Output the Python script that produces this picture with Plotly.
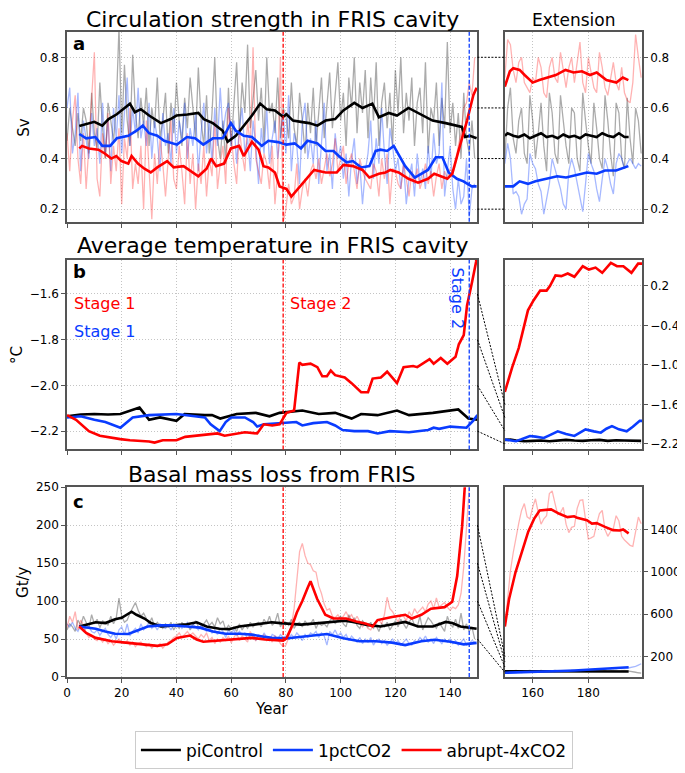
import plotly.graph_objects as go

# ---------------- data ----------------
# Panel a: circulation strength (Sv), annual values, years 0-149
a_pi_annual = [
    0.47, 0.60, 0.52, 0.45, 0.58, 0.47, 0.60, 0.55, 0.42, 0.66,
    0.50, 0.44, 0.70, 0.52, 0.40, 0.62, 0.55, 0.47, 0.60, 0.92,
    0.50, 0.77, 0.55, 0.45, 0.81, 0.58, 0.48, 0.64, 0.53, 0.68,
    0.45, 0.60, 0.52, 0.72, 0.48, 0.55, 0.66, 0.42, 0.62, 0.50,
    0.70, 0.55, 0.45, 0.64, 0.52, 0.72, 0.60, 0.48, 0.76, 0.55,
    0.45, 0.65, 0.42, 0.58, 0.80, 0.48, 0.40, 0.55, 0.38, 0.68,
    0.45, 0.62, 0.78, 0.50, 0.70, 0.58, 0.85, 0.52, 0.64, 0.75,
    0.55, 0.68, 0.46, 0.80, 0.58, 0.62, 0.50, 0.72, 0.48, 0.60,
    0.57, 0.48, 0.70, 0.52, 0.45, 0.66, 0.55, 0.42, 0.62, 0.50,
    0.68, 0.45, 0.58, 0.72, 0.48, 0.60, 0.74, 0.52, 0.64, 0.78,
    0.55, 0.66, 0.45, 0.72, 0.60, 0.80, 0.50, 0.70, 0.58, 0.75,
    0.48, 0.72, 0.55, 0.78, 0.45, 0.62, 0.70, 0.52, 0.66, 0.45,
    0.75, 0.58, 0.80, 0.50, 0.66, 0.55, 0.72, 0.45, 0.62, 0.68,
    0.50, 0.78, 0.42, 0.60, 0.55, 0.70, 0.45, 0.64, 0.52, 0.86,
    0.50, 0.62, 0.45, 0.58, 0.40, 0.66, 0.48, 0.42, 0.55, 0.40,
]
a_1pct_annual = [
    0.60, 0.68, 0.42, 0.50, 0.66, 0.35, 0.55, 0.48, 0.40, 0.58,
    0.45, 0.52, 0.38, 0.62, 0.42, 0.55, 0.35, 0.60, 0.48, 0.65,
    0.42, 0.58, 0.72, 0.45, 0.60, 0.50, 0.68, 0.48, 0.55, 0.45,
    0.62, 0.40, 0.55, 0.48, 0.35, 0.58, 0.45, 0.50, 0.38, 0.60,
    0.42, 0.55, 0.48, 0.62, 0.40, 0.52, 0.45, 0.58, 0.35, 0.50,
    0.62, 0.42, 0.55, 0.38, 0.60, 0.45, 0.68, 0.50, 0.58, 0.62,
    0.45, 0.55, 0.38, 0.52, 0.60, 0.42, 0.48, 0.35, 0.55, 0.45,
    0.30, 0.52, 0.42, 0.60, 0.38, 0.48, 0.55, 0.40, 0.50, 0.58,
    0.42, 0.65, 0.35, 0.50, 0.45, 0.30, 0.55, 0.62, 0.40, 0.48,
    0.38, 0.55, 0.30, 0.45, 0.62, 0.35, 0.42, 0.28, 0.50, 0.40,
    0.45, 0.32, 0.42, 0.25, 0.40, 0.48, 0.30, 0.38, 0.22, 0.35,
    0.42, 0.55, 0.32, 0.48, 0.38, 0.60, 0.42, 0.30, 0.52, 0.45,
    0.35, 0.40, 0.28, 0.38, 0.22, 0.32, 0.38, 0.25, 0.42, 0.30,
    0.36, 0.28, 0.45, 0.32, 0.50, 0.38, 0.42, 0.70, 0.25, 0.35,
    0.45, 0.28, 0.20, 0.32, 0.22, 0.25, 0.40, 0.17, 0.28, 0.30,
]
a_4x_annual = [
    0.50, 0.35, 0.55, 0.65, 0.40, 0.30, 0.50, 0.28, 0.45, 0.62,
    0.82, 0.32, 0.25, 0.50, 0.40, 0.58, 0.30, 0.45, 0.35, 0.52,
    0.22, 0.48, 0.40, 0.60, 0.28, 0.38, 0.30, 0.45, 0.20, 0.55,
    0.35, 0.16, 0.42, 0.30, 0.48, 0.38, 0.25, 0.40, 0.55, 0.32,
    0.28, 0.45, 0.35, 0.22, 0.50, 0.30, 0.42, 0.20, 0.38, 0.30,
    0.45, 0.25, 0.40, 0.33, 0.55, 0.28, 0.38, 0.45, 0.30, 0.60,
    0.48, 0.38, 0.30, 0.52, 0.42, 0.35, 0.55, 0.45, 0.84, 0.40,
    0.35, 0.30, 0.42, 0.38, 0.28, 0.45, 0.22, 0.35, 0.80, 0.15,
    0.20, 0.30, 0.22, 0.25, 0.38, 0.20, 0.28, 0.32, 0.25, 0.35,
    0.38, 0.32, 0.40, 0.30, 0.36, 0.42, 0.33, 0.38, 0.48, 0.35,
    0.40, 0.45, 0.30, 0.38, 0.42, 0.35, 0.28, 0.40, 0.35, 0.32,
    0.30, 0.28, 0.38, 0.35, 0.25, 0.40, 0.32, 0.42, 0.22, 0.36,
    0.35, 0.30, 0.28, 0.38, 0.32, 0.25, 0.35, 0.30, 0.36, 0.28,
    0.32, 0.38, 0.30, 0.35, 0.25, 0.33, 0.38, 0.28, 0.35, 0.32,
    0.36, 0.34, 0.38, 0.45, 0.50, 0.60, 0.62, 0.70, 0.65, 0.80,
]
# Panel a running means (year, value)
a_pi_mean_x = [4.5, 8, 10, 12.9, 15.2, 18.2, 20.6, 23, 24.8, 27, 30, 34.3, 37.9, 40, 44, 48, 50, 53.3, 56.9, 58.7, 61.7, 64.6, 67.6, 70.6, 73, 76, 79, 80.2, 82.6, 85.5, 88.5, 91.5, 94.5, 98, 101, 105, 108, 111.6, 114, 117.6, 120.6, 124.8, 129.5, 133.6, 138.4, 142.5, 144.3, 145.5, 147.3, 149.7]
a_pi_mean_y = [0.529, 0.54, 0.545, 0.53, 0.556, 0.575, 0.595, 0.617, 0.583, 0.595, 0.57, 0.54, 0.556, 0.57, 0.574, 0.58, 0.556, 0.54, 0.51, 0.466, 0.49, 0.53, 0.57, 0.617, 0.595, 0.59, 0.565, 0.575, 0.55, 0.545, 0.54, 0.53, 0.55, 0.556, 0.59, 0.62, 0.60, 0.617, 0.563, 0.58, 0.57, 0.60, 0.575, 0.55, 0.54, 0.53, 0.525, 0.485, 0.49, 0.48]
a_1pct_mean_x = [4.5, 7, 10.4, 12.9, 15.8, 18.2, 22.4, 25.4, 27.7, 30, 33, 35.5, 40.2, 43.8, 46.8, 49.8, 53.3, 56.9, 59.9, 61.7, 64.6, 67.6, 71.2, 73.6, 77.1, 80.2, 83.2, 85.5, 87.9, 91.5, 94.5, 97.4, 99.8, 102.2, 104.5, 107.5, 110.5, 112.8, 114.6, 117, 119.4, 121.2, 123.6, 127.1, 129.5, 131.9, 134.8, 137.2, 139.5, 142.5, 144.9, 147.9, 149.7]
a_1pct_mean_y = [0.497, 0.48, 0.485, 0.45, 0.45, 0.48, 0.49, 0.51, 0.53, 0.50, 0.49, 0.47, 0.455, 0.485, 0.48, 0.455, 0.48, 0.48, 0.54, 0.51, 0.49, 0.485, 0.45, 0.47, 0.465, 0.455, 0.46, 0.44, 0.47, 0.46, 0.43, 0.43, 0.405, 0.385, 0.39, 0.365, 0.37, 0.43, 0.435, 0.43, 0.45, 0.415, 0.37, 0.325, 0.34, 0.355, 0.405, 0.405, 0.345, 0.32, 0.31, 0.29, 0.29]
a_4x_mean_x = [4.5, 5.5, 8, 11.5, 13.8, 16.2, 18, 19.9, 22.4, 23.6, 25.9, 28.3, 30.6, 33, 36.6, 39, 42.6, 46.2, 48, 51, 52.7, 54.5, 57.4, 59.9, 62.9, 64.6, 67.6, 70, 71.8, 73.6, 76, 77.7, 80.2, 82, 84.3, 87.9, 90.3, 94.5, 98.6, 101, 104.5, 108, 110.5, 114, 116.4, 118.2, 121.2, 124.8, 128.3, 131.9, 134.2, 139, 140.8, 143.2, 146.2, 148.5, 149.7]
a_4x_mean_y = [0.44, 0.45, 0.44, 0.435, 0.42, 0.40, 0.41, 0.39, 0.38, 0.41, 0.38, 0.36, 0.345, 0.365, 0.39, 0.365, 0.37, 0.345, 0.33, 0.36, 0.40, 0.37, 0.38, 0.44, 0.45, 0.41, 0.466, 0.435, 0.37, 0.365, 0.345, 0.29, 0.28, 0.25, 0.28, 0.325, 0.355, 0.345, 0.345, 0.375, 0.37, 0.355, 0.325, 0.34, 0.345, 0.355, 0.345, 0.32, 0.305, 0.32, 0.34, 0.32, 0.34, 0.435, 0.55, 0.65, 0.68]

# Panel a extension (years 150-199)
a_pi_ext = [
    0.40, 0.60, 0.68, 0.48, 0.42, 0.55, 0.60, 0.42, 0.38, 0.65,
    0.55, 0.40, 0.50, 0.62, 0.45, 0.35, 0.66, 0.58, 0.42, 0.38,
    0.65, 0.55, 0.45, 0.38, 0.60, 0.58, 0.40, 0.35, 0.66, 0.55,
    0.45, 0.38, 0.62, 0.52, 0.40, 0.36, 0.65, 0.55, 0.42, 0.33,
    0.62, 0.58, 0.40, 0.36, 0.64, 0.48, 0.38, 0.60, 0.55, 0.42,
]
a_1pct_ext = [
    0.38, 0.46, 0.40, 0.26, 0.27, 0.25, 0.18, 0.22, 0.24, 0.42,
    0.38, 0.36, 0.30, 0.27, 0.18, 0.24, 0.30, 0.40, 0.36, 0.32,
    0.28, 0.22, 0.20, 0.35, 0.40, 0.36, 0.30, 0.24, 0.19, 0.30,
    0.42, 0.38, 0.35, 0.28, 0.23, 0.32, 0.40, 0.36, 0.30, 0.26,
    0.38, 0.42, 0.40, 0.36, 0.38, 0.40, 0.38, 0.36, 0.38, 0.37,
]
a_4x_ext = [
    0.72, 0.87, 0.85, 0.75, 0.70, 0.78, 0.80, 0.70, 0.68, 0.66,
    0.72, 0.70, 0.80, 0.76, 0.66, 0.64, 0.76, 0.80, 0.72, 0.70,
    0.82, 0.74, 0.68, 0.76, 0.80, 0.70, 0.78, 0.86, 0.70, 0.66,
    0.80, 0.74, 0.68, 0.66, 0.82, 0.76, 0.68, 0.65, 0.72, 0.78,
    0.70, 0.67, 0.76, 0.66, 0.63, 0.62, 0.70, 0.89, 0.80, 0.72,
]
a_pi_ext_mean_x = [150, 151, 153, 155, 157, 159, 161, 163, 165, 167, 169, 171, 173, 175, 177, 179, 181, 183, 185, 187, 189, 191, 193, 194.5]
a_pi_ext_mean_y = [0.49, 0.50, 0.49, 0.485, 0.495, 0.48, 0.49, 0.50, 0.485, 0.49, 0.48, 0.495, 0.485, 0.49, 0.48, 0.495, 0.49, 0.485, 0.50, 0.49, 0.485, 0.50, 0.485, 0.485]
a_1pct_ext_mean_x = [150, 153, 155.3, 158.3, 161, 165.3, 168.8, 172, 176, 179.5, 183, 186, 190, 194.4]
a_1pct_ext_mean_y = [0.29, 0.29, 0.31, 0.30, 0.31, 0.32, 0.33, 0.325, 0.335, 0.345, 0.34, 0.353, 0.353, 0.37]
a_4x_ext_mean_x = [150, 151.8, 153, 155.3, 157.1, 160, 162.4, 165.3, 168.3, 171.8, 174.7, 177.7, 180.6, 183, 186.5, 190.1, 192.4, 194.4]
a_4x_ext_mean_y = [0.684, 0.745, 0.757, 0.75, 0.73, 0.70, 0.71, 0.72, 0.73, 0.75, 0.74, 0.745, 0.73, 0.74, 0.71, 0.70, 0.72, 0.71]

# Panel b: average temperature (degC)
b_pi_x = [0, 5, 10, 15, 19.5, 23, 26.5, 30, 34, 40, 43, 50.4, 53, 56, 62, 69, 74, 77.7, 86, 92, 98, 104, 107.5, 113.5, 120.6, 125, 133.7, 143, 146.7, 150]
b_pi_y = [-2.135, -2.127, -2.125, -2.127, -2.125, -2.11, -2.097, -2.15, -2.14, -2.155, -2.125, -2.13, -2.13, -2.145, -2.125, -2.12, -2.135, -2.12, -2.11, -2.125, -2.12, -2.145, -2.125, -2.13, -2.11, -2.13, -2.12, -2.105, -2.145, -2.15]
b_1pct_x = [0, 5, 10, 14, 19.5, 24, 30, 40, 50.4, 52.5, 55.8, 58, 60, 65, 68, 69.5, 72, 80, 83.8, 86, 90, 95, 98, 100.7, 105, 110, 113.5, 118, 125, 132, 134, 136, 140, 146, 148.4, 150]
b_1pct_y = [-2.14, -2.135, -2.15, -2.16, -2.185, -2.14, -2.13, -2.125, -2.14, -2.17, -2.20, -2.16, -2.14, -2.14, -2.16, -2.18, -2.17, -2.165, -2.16, -2.175, -2.165, -2.16, -2.175, -2.195, -2.20, -2.20, -2.21, -2.20, -2.205, -2.195, -2.185, -2.19, -2.18, -2.185, -2.155, -2.13]
b_4x_x = [0, 3.3, 8, 12, 19.5, 23, 30, 32, 35, 40, 43.2, 48, 51.6, 55, 57.6, 62, 65, 69.5, 71.9, 75, 77.7, 80.2, 83, 84, 84.9, 86, 89, 91.5, 93.3, 95, 96.4, 98, 101.5, 104, 107.5, 110, 111.7, 114.7, 117, 120.6, 123, 126.5, 128, 132.5, 134, 136.6, 139, 142, 143.2, 145, 146.2, 148, 149.5, 150]
b_4x_y = [-2.13, -2.15, -2.20, -2.22, -2.235, -2.24, -2.245, -2.25, -2.24, -2.24, -2.225, -2.22, -2.215, -2.21, -2.22, -2.21, -2.205, -2.21, -2.17, -2.175, -2.17, -2.12, -2.11, -2.00, -1.90, -1.91, -1.905, -1.92, -1.96, -1.96, -1.935, -1.955, -1.965, -1.99, -2.03, -2.03, -1.97, -1.965, -1.94, -1.99, -1.92, -1.915, -1.92, -1.885, -1.905, -1.88, -1.905, -1.875, -1.82, -1.78, -1.65, -1.55, -1.46, -1.40]
b_pi_ext_x = [150, 152, 154, 157, 160, 163, 166, 169, 172, 175, 178, 181, 184, 187, 190, 193, 196, 199]
b_pi_ext_y = [-2.14, -2.135, -2.15, -2.16, -2.155, -2.15, -2.16, -2.15, -2.14, -2.15, -2.155, -2.145, -2.14, -2.155, -2.145, -2.15, -2.15, -2.155]
b_1pct_ext_x = [150, 152, 154, 156, 159, 161, 164, 166, 169, 172, 175, 177, 179, 182, 184.5, 186.5, 188.5, 191, 193.8, 196, 198.5, 199.3]
b_1pct_ext_y = [-2.135, -2.15, -2.16, -2.13, -2.08, -2.09, -2.11, -2.07, -2.01, -2.05, -2.08, -2.03, -1.98, -2.01, -2.03, -1.97, -1.93, -1.98, -2.01, -1.94, -1.85, -1.85]
b_4x_ext_x = [150, 152.6, 155, 156.7, 158.3, 160.3, 162.7, 165, 166.2, 168.2, 170.3, 172.6, 175, 178, 180.2, 182.6, 185, 188.1, 190.3, 192.6, 195.5, 197.9, 199.3]
b_4x_ext_y = [-1.41, -1.04, -0.74, -0.45, -0.17, -0.02, 0.13, 0.13, 0.20, 0.36, 0.35, 0.39, 0.34, 0.50, 0.45, 0.48, 0.40, 0.55, 0.50, 0.50, 0.40, 0.54, 0.54]

# Panel c: basal mass loss (Gt/y), annual values, years 0-149
c_pi_annual = [
    62, 70, 66, 60, 75, 68, 80, 72, 64, 82,
    70, 76, 65, 74, 72, 68, 80, 70, 78, 104,
    80, 72, 75, 84, 92, 98, 88, 80, 84, 76,
    70, 78, 66, 72, 68, 64, 70, 66, 72, 62,
    68, 64, 72, 66, 70, 62, 68, 74, 66, 64,
    70, 75, 68, 72, 66, 78, 70, 74, 62, 68,
    64, 66, 60, 70, 62, 68, 64, 72, 66, 70,
    72, 66, 76, 70, 80, 68, 72, 84, 66, 74,
    72, 68, 76, 64, 70, 72, 66, 74, 68, 70,
    76, 64, 72, 68, 70, 66, 74, 78, 70, 76,
    80, 70, 66, 82, 72, 78, 68, 64, 74, 70,
    66, 72, 64, 68, 60, 70, 66, 72, 62, 68,
    74, 66, 76, 70, 64, 72, 78, 68, 66, 80,
    62, 70, 78, 74, 68, 64, 72, 66, 60, 80,
    70, 66, 76, 64, 84, 62, 70, 60, 66, 50,
]
c_1pct_annual = [
    70, 66, 72, 64, 60, 68, 62, 64, 66, 60,
    58, 62, 55, 60, 64, 56, 52, 58, 50, 62,
    66, 56, 70, 54, 60, 64, 58, 70, 62, 66,
    72, 64, 68, 62, 70, 66, 64, 68, 62, 70,
    66, 70, 64, 68, 72, 64, 70, 66, 62, 68,
    64, 60, 66, 58, 62, 56, 64, 60, 52, 62,
    58, 62, 54, 60, 56, 58, 50, 54, 56, 48,
    56, 50, 58, 52, 48, 56, 54, 50, 56, 52,
    54, 50, 56, 52, 58, 54, 48, 56, 52, 58,
    56, 60, 52, 58, 54, 42, 60, 56, 62, 54,
    58, 52, 56, 48, 54, 50, 46, 52, 44, 50,
    46, 52, 42, 48, 50, 44, 48, 42, 46, 50,
    44, 48, 42, 46, 50, 44, 42, 48, 46, 52,
    48, 54, 46, 50, 44, 52, 48, 44, 50, 46,
    50, 44, 48, 42, 46, 50, 42, 44, 48, 46,
]
c_4x_annual = [
    65, 80, 72, 86, 62, 75, 68, 58, 52, 55,
    50, 48, 52, 46, 50, 44, 48, 42, 46, 50,
    45, 44, 48, 42, 46, 40, 44, 46, 42, 40,
    44, 38, 42, 40, 44, 38, 42, 46, 48, 52,
    54, 58, 52, 56, 60, 55, 58, 54, 50, 56,
    52, 58, 48, 52, 44, 50, 46, 52, 48, 54,
    45, 52, 58, 48, 54, 50, 46, 60, 52, 48,
    54, 50, 56, 48, 52, 46, 54, 50, 44, 40,
    42, 52, 68, 90, 130, 165, 176, 160, 150, 148,
    140, 138, 120, 110, 96, 88, 90, 80, 78, 82,
    76, 80, 86, 78, 82, 74, 80, 72, 66, 70,
    64, 62, 68, 72, 75, 70, 82, 105, 90, 86,
    78, 72, 82, 80, 74, 86, 80, 90, 84, 88,
    92, 86, 96, 100, 90, 104, 92, 95, 98, 92,
    88, 92, 90, 95, 110, 145, 200, 270, 300, 320,
]
c_pi_mean_x = [4.5, 10.5, 14, 17.6, 20, 23.6, 25.4, 28.3, 30.7, 34.3, 39, 43.8, 47.4, 51, 55.7, 59.3, 62.9, 67.6, 71.2, 74.8, 78, 85.5, 92, 97.4, 101.5, 104.5, 109.3, 114.6, 118, 123.6, 128.3, 133.7, 138.4, 140.8, 143.8, 149.7]
c_pi_mean_y = [66.5, 72, 71, 76, 78, 86, 82, 77, 71, 66.5, 68, 69.5, 72, 66.5, 63.5, 63, 66.5, 68.7, 71, 72, 71, 69, 71, 72.5, 74, 72.5, 69, 66.5, 69, 72.5, 66.5, 66.5, 72.5, 71, 66.5, 63.5]
c_1pct_mean_x = [4.5, 10.5, 14, 17.6, 22.4, 26, 29.5, 34.3, 39, 43.8, 48.6, 53.3, 58, 62.9, 67.6, 72.4, 74.8, 80.8, 87.9, 95, 101, 106.9, 112.9, 118.8, 123.6, 129.5, 134.3, 140.2, 145, 149.7]
c_1pct_mean_y = [66.5, 63.5, 60, 57, 56.7, 62, 66.5, 68, 68, 66.5, 65, 60, 57, 57, 55.8, 52.8, 51.5, 51, 54, 56.7, 51, 47, 47, 45.3, 42, 47, 49, 46.4, 43, 45]
c_4x_mean_x = [4.5, 7, 10.5, 16.4, 22.4, 28.3, 33, 36.7, 40.2, 45, 47.4, 49.8, 55.7, 61.7, 67.6, 72.4, 77, 79, 80.2, 82, 84, 86, 88, 89, 91.4, 94.4, 97.4, 102, 105.7, 109.3, 111.7, 113.5, 118.8, 123.6, 126, 129.5, 133, 138, 140.8, 142.6, 144.4, 145.6, 146.3]
c_4x_mean_y = [66.5, 58, 51.5, 47, 45, 43, 41, 43, 51.5, 54.6, 49.4, 46.4, 48, 50.6, 51.5, 49.4, 48, 48, 51, 65, 85, 100, 118, 126, 103, 82, 77, 77, 73, 70, 66.5, 75, 79, 82, 77, 82, 90, 92, 99, 133, 198, 249, 300]

# Panel c extension (years 150-199)
c_pi_ext = [
    62, 66, 60, 64, 68, 62, 66, 60, 64, 68,
    62, 65, 60, 67, 63, 60, 66, 62, 68, 64,
    60, 66, 63, 60, 67, 62, 64, 68, 60, 65,
    62, 66, 60, 64, 68, 62, 66, 60, 64, 67,
    62, 60, 65, 68, 62, 60, 55, 50, 45, 42,
]
c_1pct_ext = [
    45, 48, 44, 50, 47, 52, 46, 50, 54, 48,
    52, 55, 50, 56, 53, 58, 55, 60, 57, 62,
    58, 64, 60, 66, 62, 68, 64, 70, 66, 72,
    68, 75, 70, 78, 74, 80, 76, 84, 80, 86,
    82, 88, 85, 92, 88, 95, 96, 105, 118, 130,
]
c_4x_ext = [
    480, 760, 1010, 1180, 1340, 1460, 1580, 1645, 1520, 1500,
    1610, 1690, 1560, 1450, 1500, 1530, 1740, 1765, 1650, 1540,
    1560, 1610, 1450, 1370, 1420, 1430, 1600, 1675, 1680, 1500,
    1310, 1320, 1335, 1450, 1550, 1580, 1400, 1335, 1380, 1410,
    1530, 1480, 1335, 1300, 1270, 1250, 1240, 1400, 1517, 1455,
]
c_pi_ext_mean_x = [150, 160, 170, 180, 190, 194.5]
c_pi_ext_mean_y = [60, 58, 58, 57, 57, 57]
c_1pct_ext_mean_x = [150, 155, 160, 165, 170, 175, 180, 185, 190, 194.5]
c_1pct_ext_mean_y = [45, 48, 52, 57, 62, 67, 73, 80, 88, 97]
c_4x_ext_mean_x = [150, 151.5, 153.8, 156.7, 158.4, 160.5, 162.5, 166.6, 169.6, 172.5, 174.9, 176, 179.5, 181.3, 183, 186, 188.9, 191.3, 192.5, 194.5]
c_4x_ext_mean_y = [483, 740, 993, 1240, 1379, 1500, 1580, 1590, 1548, 1517, 1525, 1510, 1487, 1456, 1460, 1425, 1394, 1390, 1400, 1363]

stage_years = {"abrupt-4xCO2": 79, "1pctCO2": 147}
series_names = ["piControl", "1pctCO2", "abrupt-4xCO2"]

# ---------------- style ----------------
FONT = "DejaVu Sans"
C_BLACK, C_BLUE, C_RED = "#000000", "#0a3cff", "#ff0000"
L_BLACK, L_BLUE, L_RED = "rgba(0,0,0,0.33)", "rgba(10,60,255,0.36)", "rgba(255,0,0,0.30)"
SPINE = "#555555"

XM = [0.0, 0.7138]
XE = [0.7615, 1.0]
YA = [0.7057, 1.0]
YB = [0.3528, 0.6470]
YC = [0.0, 0.2943]
RA = [0.15, 0.9]
RB = [-2.28, -1.45]
RBE = [-2.285, 0.6]
RC = [0, 250]
RCE = [5, 1800]
XR = [0, 150]
XER = [150, 199.3]

H_PLOT = 659.0
BOT_PX = 683.0


def P(px):
    return (BOT_PX - px) / H_PLOT


fig = go.Figure()


def add(x, y, color, width, xa, ya, name=None, legend=False):
    fig.add_trace(go.Scatter(x=x, y=y, mode="lines", line=dict(color=color, width=width),
                             xaxis=xa, yaxis=ya, name=name, showlegend=legend,
                             hoverinfo="skip"))


yrs = list(range(150))
ext = lambda v: [150 + i for i in range(len(v))]

# Panel a main
add(yrs, a_pi_annual, L_BLACK, 1.3, "x", "y")
add(yrs, a_1pct_annual, L_BLUE, 1.3, "x", "y")
add(yrs, a_4x_annual, L_RED, 1.3, "x", "y")
add(a_pi_mean_x, a_pi_mean_y, C_BLACK, 2.6, "x", "y", series_names[0], True)
add(a_1pct_mean_x, a_1pct_mean_y, C_BLUE, 2.6, "x", "y", series_names[1], True)
add(a_4x_mean_x, a_4x_mean_y, C_RED, 2.6, "x", "y", series_names[2], True)
# Panel a extension
add(ext(a_pi_ext), a_pi_ext, L_BLACK, 1.3, "x2", "y2")
add(ext(a_1pct_ext), a_1pct_ext, L_BLUE, 1.3, "x2", "y2")
add(ext(a_4x_ext), a_4x_ext, L_RED, 1.3, "x2", "y2")
add(a_pi_ext_mean_x, a_pi_ext_mean_y, C_BLACK, 2.6, "x2", "y2")
add(a_1pct_ext_mean_x, a_1pct_ext_mean_y, C_BLUE, 2.6, "x2", "y2")
add(a_4x_ext_mean_x, a_4x_ext_mean_y, C_RED, 2.6, "x2", "y2")
# Panel b
add(b_pi_x, b_pi_y, C_BLACK, 2.6, "x3", "y3")
add(b_1pct_x, b_1pct_y, C_BLUE, 2.6, "x3", "y3")
add(b_4x_x, b_4x_y, C_RED, 2.6, "x3", "y3")
add(b_pi_ext_x, b_pi_ext_y, C_BLACK, 2.6, "x4", "y4")
add(b_1pct_ext_x, b_1pct_ext_y, C_BLUE, 2.6, "x4", "y4")
add(b_4x_ext_x, b_4x_ext_y, C_RED, 2.6, "x4", "y4")
# Panel c
add(yrs, c_pi_annual, L_BLACK, 1.3, "x5", "y5")
add(yrs, c_1pct_annual, L_BLUE, 1.3, "x5", "y5")
add(yrs, c_4x_annual, L_RED, 1.3, "x5", "y5")
add(c_pi_mean_x, c_pi_mean_y, C_BLACK, 2.6, "x5", "y5")
add(c_1pct_mean_x, c_1pct_mean_y, C_BLUE, 2.6, "x5", "y5")
add(c_4x_mean_x, c_4x_mean_y, C_RED, 2.6, "x5", "y5")
add(ext(c_pi_ext), c_pi_ext, L_BLACK, 1.3, "x6", "y6")
add(ext(c_1pct_ext), c_1pct_ext, L_BLUE, 1.3, "x6", "y6")
add(ext(c_4x_ext), c_4x_ext, L_RED, 1.3, "x6", "y6")
add(c_pi_ext_mean_x, c_pi_ext_mean_y, C_BLACK, 2.6, "x6", "y6")
add(c_1pct_ext_mean_x, c_1pct_ext_mean_y, C_BLUE, 2.6, "x6", "y6")
add(c_4x_ext_mean_x, c_4x_ext_mean_y, C_RED, 2.6, "x6", "y6")

tickfont = dict(family=FONT, size=12, color="#000")
common = dict(showline=True, linecolor=SPINE, linewidth=1.5, mirror=True,
              ticks="outside", ticklen=4, tickcolor=SPINE, tickwidth=1,
              showgrid=True, gridcolor="#c4c4c4", gridwidth=1, griddash="1px,2px",
              zeroline=False, tickfont=tickfont)

main_ticks = list(range(0, 141, 20))
layout = dict(
    width=685, height=773,
    margin=dict(l=59, r=39, t=24, b=90),
    paper_bgcolor="white", plot_bgcolor="white",
    font=dict(family=FONT, color="#000"),
    showlegend=True,
    legend=dict(orientation="h", x=0.499, xanchor="center", y=P(758), yanchor="middle",
                bordercolor="#cccccc", borderwidth=1, font=dict(family=FONT, size=17),
                itemwidth=40),
)
layout["xaxis"] = dict(domain=XM, range=XR, anchor="y", tickvals=main_ticks, showticklabels=False, **common)
layout["yaxis"] = dict(domain=YA, range=RA, anchor="x", tickvals=[0.2, 0.4, 0.6, 0.8], tickformat=".1f", **common)
layout["xaxis2"] = dict(domain=XE, range=XER, anchor="y2", tickvals=[160, 180], showticklabels=False, **common)
layout["yaxis2"] = dict(domain=YA, range=RA, anchor="x2", side="right", tickvals=[0.2, 0.4, 0.6, 0.8], tickformat=".1f", **common)
layout["xaxis3"] = dict(domain=XM, range=XR, anchor="y3", tickvals=main_ticks, showticklabels=False, **common)
layout["yaxis3"] = dict(domain=YB, range=RB, anchor="x3", tickvals=[-2.2, -2.0, -1.8, -1.6], tickformat=".1f", **common)
layout["xaxis4"] = dict(domain=XE, range=XER, anchor="y4", tickvals=[160, 180], showticklabels=False, **common)
layout["yaxis4"] = dict(domain=YB, range=RBE, anchor="x4", side="right", tickvals=[-2.2, -1.6, -1.0, -0.4, 0.2], tickformat=".1f", **common)
layout["xaxis5"] = dict(domain=XM, range=XR, anchor="y5", tickvals=main_ticks, **common)
layout["yaxis5"] = dict(domain=YC, range=RC, anchor="x5", tickvals=[0, 50, 100, 150, 200, 250], **common)
layout["xaxis6"] = dict(domain=XE, range=XER, anchor="y6", tickvals=[160, 180], **common)
layout["yaxis6"] = dict(domain=YC, range=RCE, anchor="x6", side="right", tickvals=[200, 600, 1000, 1400], **common)
fig.update_layout(**layout)

# ---- shapes: stage lines and connectors ----
shapes = []
for xa, ya in (("x", "y"), ("x3", "y3"), ("x5", "y5")):
    for nm, col in (("abrupt-4xCO2", C_RED), ("1pctCO2", C_BLUE)):
        shapes.append(dict(type="line", xref=xa, yref=ya + " domain",
                           x0=stage_years[nm], x1=stage_years[nm], y0=0, y1=1,
                           line=dict(color=col, width=1.3, dash="4px,2px"), layer="above"))


def ypaper(v, rng, dom):
    return dom[0] + (v - rng[0]) / (rng[1] - rng[0]) * (dom[1] - dom[0])


for vals, rm, re_, dom in (([0.2, 0.4, 0.6, 0.8], RA, RA, YA),
                           ([-1.6, -1.8, -2.0, -2.2], RB, RBE, YB),
                           ([50, 100, 150, 200], RC, RCE, YC)):
    for v in vals:
        shapes.append(dict(type="line", xref="paper", yref="paper",
                           x0=XM[1], x1=XE[0],
                           y0=ypaper(v, rm, dom), y1=ypaper(v, re_, dom),
                           line=dict(color="#000", width=1, dash="2px,1.5px")))
fig.update_layout(shapes=shapes)

# ---- annotations ----
ann = []
title_font = dict(family=FONT, size=22, color="#000")
xm_c = (XM[0] + XM[1]) / 2
for txt, ypx in (("Circulation strength in FRIS cavity", 11),
                 ("Average temperature in FRIS cavity", 242),
                 ("Basal mass loss from FRIS", 476)):
    ann.append(dict(text=txt, xref="paper", yref="paper", x=xm_c, y=P(ypx),
                    xanchor="center", yanchor="middle", showarrow=False, font=title_font))
ann.append(dict(text="Extension", xref="paper", yref="paper", x=(XE[0] + XE[1]) / 2, y=P(12),
                xanchor="center", yanchor="middle", showarrow=False,
                font=dict(family=FONT, size=17, color="#000")))
for letter, ypx in (("a", 36), ("b", 269), ("c", 504)):
    ann.append(dict(text="<b>%s</b>" % letter, xref="paper", yref="paper", x=0.007, y=P(ypx),
                    xanchor="left", yanchor="middle", showarrow=False,
                    font=dict(family=FONT, size=18, color="#000")))
for txt, xpx, ypx in (("Sv", 15, 121), ("°C", 8, 354), ("Gt/y", 14, 586)):
    ann.append(dict(text=txt, xref="paper", yref="paper", x=(xpx - 59) / 587.0, y=P(ypx),
                    xanchor="center", yanchor="middle", textangle=-90, showarrow=False,
                    font=dict(family=FONT, size=15, color="#000")))
ann.append(dict(text="Year", xref="paper", yref="paper", x=xm_c, y=P(716),
                xanchor="center", yanchor="middle", showarrow=False,
                font=dict(family=FONT, size=15, color="#000")))
stage_font = dict(family=FONT, size=16)
ann.append(dict(text="Stage 1", xref="x3", yref="y3", x=1.8, y=-1.643, xanchor="left", yanchor="middle",
                showarrow=False, font=dict(stage_font, color=C_RED)))
ann.append(dict(text="Stage 1", xref="x3", yref="y3", x=1.8, y=-1.763, xanchor="left", yanchor="middle",
                showarrow=False, font=dict(stage_font, color=C_BLUE)))
ann.append(dict(text="Stage 2", xref="x3", yref="y3", x=80.8, y=-1.643, xanchor="left", yanchor="middle",
                showarrow=False, font=dict(stage_font, color=C_RED)))
ann.append(dict(text="Stage 2", xref="x3", yref="y3", x=142.6, y=-1.621, xanchor="center", yanchor="middle",
                textangle=90, showarrow=False, font=dict(stage_font, color=C_BLUE)))
fig.update_layout(annotations=ann)

fig.write_html("out.html")
